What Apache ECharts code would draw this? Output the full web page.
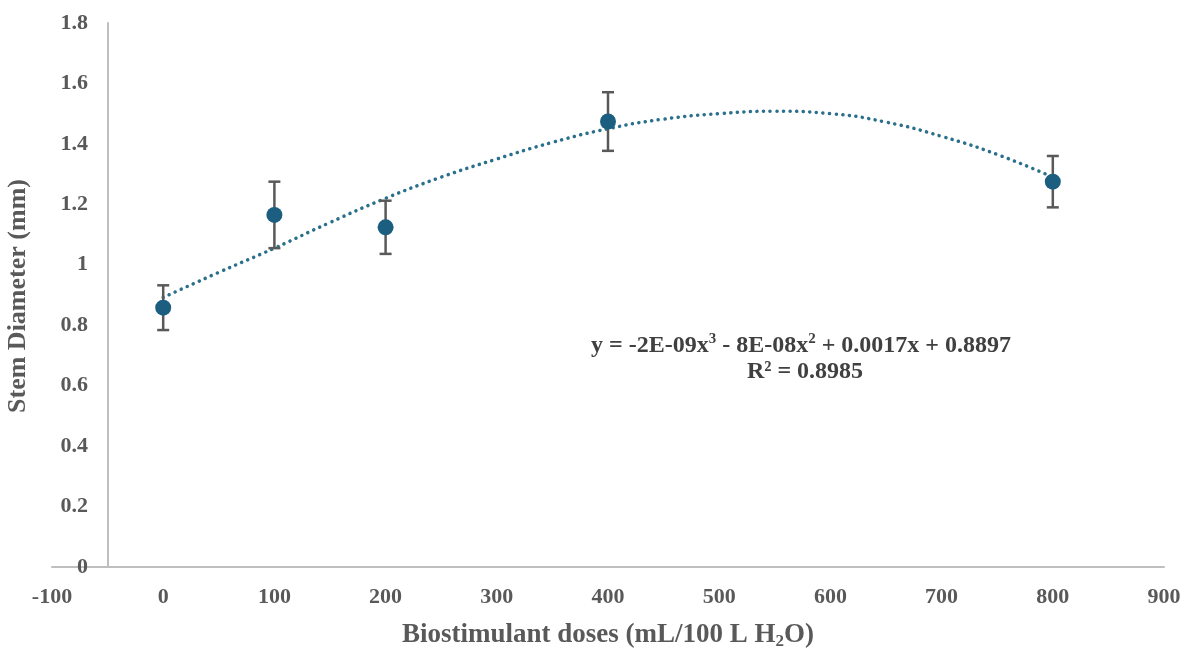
<!DOCTYPE html>
<html>
<head>
<meta charset="utf-8">
<script src="https://cdn.jsdelivr.net/npm/echarts@6/dist/echarts.min.js"></script>
<style>
  html, body { margin: 0; padding: 0; background: #fff; }
  #chart { width: 1194px; height: 650px; }
</style>
</head>
<body>
<div id="chart"></div>
<script>
// measured points (dose, mean stem diameter, error)
var doses = [0, 100, 200, 400, 800];
var means = [0.858, 1.165, 1.124, 1.474, 1.275];
var errs  = [0.074, 0.11, 0.088, 0.097, 0.085];

// polynomial trendline
var trendX = [0, 50, 100, 150, 200, 250, 300, 350, 400, 450, 500, 550, 600, 650, 700, 750, 800];
var trendY = [0.892, 0.975, 1.055, 1.14, 1.22, 1.29, 1.35, 1.405, 1.45, 1.482, 1.5, 1.508, 1.5, 1.472, 1.425, 1.365, 1.29];

var xTicks = [-100, 0, 100, 200, 300, 400, 500, 600, 700, 800, 900];
var yTicks = [0, 0.2, 0.4, 0.6, 0.8, 1, 1.2, 1.4, 1.6, 1.8];

var labelColor = '#595959';
var axisColor = '#bfbfbf';
var pointColor = '#1b5e80';
var font = '"Liberation Serif", "Times New Roman", serif';

var chart = echarts.init(document.getElementById('chart'));

var pts = doses.map(function (d, i) { return [d, means[i]]; });
var errData = doses.map(function (d, i) { return [d, means[i] - errs[i], means[i] + errs[i]]; });
var trend = trendX.map(function (x, i) { return [x, trendY[i]]; });

var option = {
  animation: false,
  backgroundColor: '#fff',
  grid: { left: 52, right: 30, top: 23, bottom: 83, outerBoundsMode: 'none', containLabel: false },
  xAxis: {
    type: 'value',
    min: xTicks[0], max: xTicks[xTicks.length - 1], interval: 100,
    splitLine: { show: false },
    axisTick: { show: false },
    axisLine: { onZero: false, lineStyle: { color: axisColor, width: 2 } },
    axisLabel: { color: labelColor, fontFamily: font, fontWeight: 'bold', fontSize: 22, margin: 19 },
    name: '{a|Biostimulant doses (mL/100 L H}{s|2}{a|O)}',
    nameLocation: 'middle',
    nameGap: 53,
    nameTextStyle: {
      rich: {
        a: { color: labelColor, fontFamily: font, fontWeight: 'bold', fontSize: 27, lineHeight: 30 },
        s: { color: labelColor, fontFamily: font, fontWeight: 'bold', fontSize: 17, lineHeight: 30, verticalAlign: 'bottom', padding: [10, 0, 0, 0] }
      }
    }
  },
  yAxis: {
    type: 'value',
    min: yTicks[0], max: yTicks[yTicks.length - 1], interval: 0.2,
    offset: -56,
    splitLine: { show: false },
    axisTick: { show: false },
    axisLine: { show: true, onZero: false, lineStyle: { color: axisColor, width: 2 } },
    axisLabel: { color: labelColor, fontFamily: font, fontWeight: 'bold', fontSize: 22, margin: 20 }
  },
  graphic: [
    {
      type: 'text', x: 18, y: 296, rotation: Math.PI / 2,
      style: {
        text: 'Stem Diameter (mm)', fill: labelColor, font: 'bold 26px ' + font,
        align: 'center', verticalAlign: 'middle'
      }
    },
    {
      type: 'text', x: 801, y: 346,
      style: {
        text: '{a|y = -2E-09x}{p|3}{a| - 8E-08x}{p|2}{a| + 0.0017x + 0.8897}',
        align: 'center', verticalAlign: 'middle',
        rich: {
          a: { fill: '#404040', font: 'bold 24px ' + font, lineHeight: 28 },
          p: { fill: '#404040', font: 'bold 15px ' + font, lineHeight: 28, verticalAlign: 'top', padding: [0, 0, 10, 0] }
        }
      }
    },
    {
      type: 'text', x: 805, y: 372,
      style: {
        text: 'R² = 0.8985', fill: '#404040', font: 'bold 24px ' + font,
        align: 'center', verticalAlign: 'middle'
      }
    }
  ],
  series: [
    {
      type: 'line',
      data: trend,
      smooth: true,
      showSymbol: false,
      z: 2,
      lineStyle: { color: '#2a6f8c', width: 3.5, type: [0.1, 6.5], cap: 'round' }
    },
    {
      type: 'custom',
      data: errData,
      z: 3,
      renderItem: function (params, api) {
        var x = api.value(0);
        var lo = api.coord([x, api.value(1)]);
        var hi = api.coord([x, api.value(2)]);
        var w = 6;
        var st = { stroke: '#595959', lineWidth: 2.5 };
        return {
          type: 'group',
          children: [
            { type: 'line', shape: { x1: lo[0], y1: lo[1], x2: hi[0], y2: hi[1] }, style: st },
            { type: 'line', shape: { x1: lo[0] - w, y1: lo[1], x2: lo[0] + w, y2: lo[1] }, style: st },
            { type: 'line', shape: { x1: hi[0] - w, y1: hi[1], x2: hi[0] + w, y2: hi[1] }, style: st }
          ]
        };
      }
    },
    {
      type: 'scatter',
      data: pts,
      symbol: 'circle',
      symbolSize: 16,
      z: 4,
      itemStyle: { color: pointColor, opacity: 1 }
    }
  ]
};

chart.setOption(option);
</script>
</body>
</html>
